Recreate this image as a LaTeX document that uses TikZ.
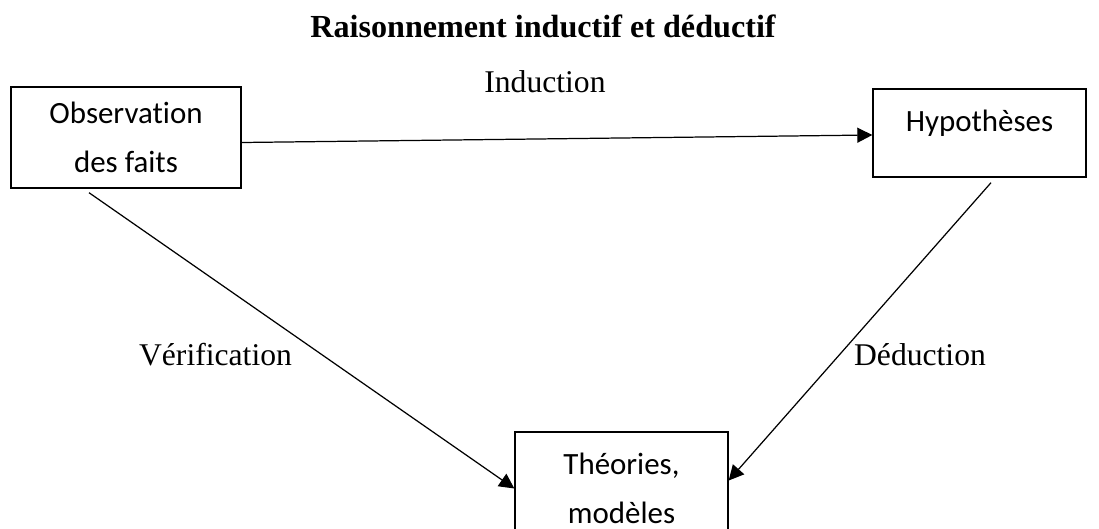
\documentclass[tikz,border=0pt]{standalone}
\usepackage{fontspec}
\setmainfont{Liberation Serif}
\newfontfamily\boxfont[Ligatures=NoCommon]{Carlito}
\usetikzlibrary{arrows.meta}
\tikzset{
  box/.style={draw, line width=0.8pt, minimum width=4.26cm, inner sep=0pt, align=center,
    font=\boxfont\fontsize{17.6}{27.5}\selectfont},
  txt/.style={anchor=base, font=\fontsize{18}{22}\selectfont},
  fleche/.style={line width=0.7pt, -{Triangle[length=3mm,width=3mm]}}
}
\begin{document}
\begin{tikzpicture}[x=0.02cm, y=-0.02cm]
\useasboundingbox (0,0) rectangle (1099,528);
\clip (0,0) rectangle (1099,528);
\node[txt, font=\bfseries\fontsize{18.3}{22}\selectfont] (titre) at (543,37) {Raisonnement inductif et déductif};
\node[box, minimum width=4.6cm, minimum height=2.02cm] (obs) at (126,137.5) {Observation\\des faits};
\node[box, minimum height=1.76cm, label={[yshift=0.2cm, font=\boxfont\fontsize{17.6}{22}\selectfont]center:Hypothèses}] (hyp) at (979.5,133) {};
\node[box, minimum height=2.26cm] (theo) at (621.5,488.5) {Théories,\\modèles};
\draw[fleche] ([yshift=-0.1cm]obs.east) -- ([yshift=-0.04cm]hyp.west);
\draw[fleche] ([xshift=-0.74cm,yshift=-0.08cm]obs.south) -- (theo.west);
\draw[fleche] ([xshift=0.23cm,yshift=-0.1cm]hyp.south) -- ([yshift=0.16cm]theo.east);
\node[txt] (ind) at (545,92) {Induction};
\node[txt] (verif) at (215.5,365) {Vérification};
\node[txt] (ded) at (920,365) {Déduction};
\end{tikzpicture}
\end{document}
